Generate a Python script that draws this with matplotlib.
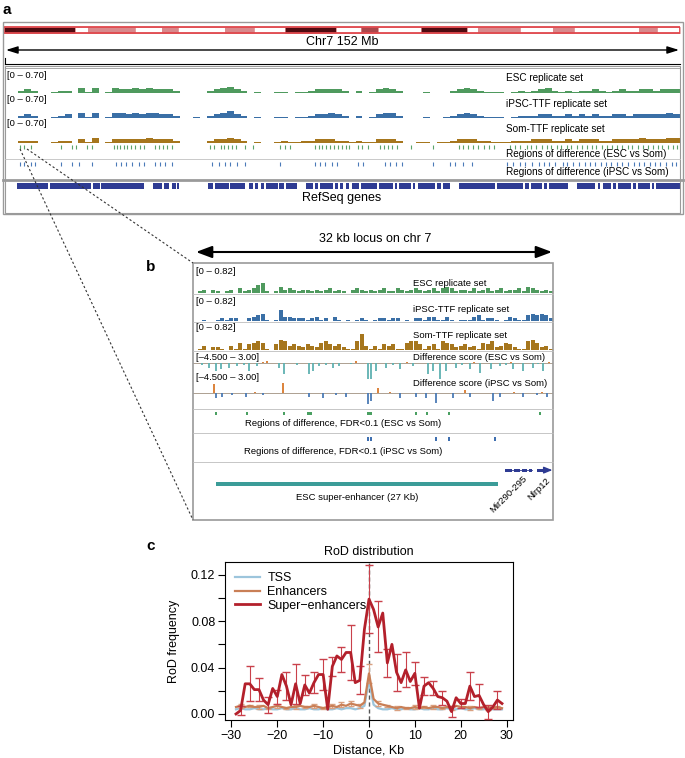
import numpy as np
import matplotlib
matplotlib.use('Agg')
import matplotlib.pyplot as plt
from matplotlib.patches import Rectangle

plt.rcParams['font.family'] = ['Liberation Sans', 'DejaVu Sans']

W, H = 685, 758

# ---------------- panel a : whole chr7 (Mb) ----------------
band_edges = [0, 16.0, 18.9, 29.5, 35.5, 39.1, 49.7, 56.2, 63.2, 74.6, 80.3,
              84.1, 93.8, 104.1, 106.6, 116.0, 123.4, 128.2, 142.8, 146.8, 152.0]
band_stain = ['dark', 'white', 'pink', 'white', 'pink', 'white', 'pink', 'white',
              'dark', 'white', 'cen', 'white', 'dark', 'white', 'pink', 'white',
              'pink', 'white', 'pink', 'white']
stain_color = {'dark': '#4e0b10', 'pink': '#d8898c', 'white': '#ffffff', 'cen': '#a9474b'}

# signal in 1.52 Mb bins (units of 0.035)
chr_esc = [0, 0, 2, 3, 2, 0, 0, 1, 2, 2, 0, 4, 1, 4, 0, 1, 4, 3, 3, 4,
           3, 4, 3, 3, 3, 2, 0, 0, 0, 0, 2, 3, 4, 5, 3, 2, 0, 1, 0, 0,
           1, 1, 0, 1, 1, 2, 3, 3, 3, 3, 2, 0, 2, 0, 1, 3, 4, 3, 2, 0,
           0, 0, 1, 0, 0, 0, 2, 3, 4, 3, 2, 1, 1, 1, 0, 1, 2, 1, 2, 3,
           4, 2, 1, 2, 1, 2, 2, 3, 2, 1, 2, 3, 2, 2, 3, 3, 2, 3, 3, 3]
chr_ipsc = [0, 0, 2, 3, 2, 0, 0, 1, 2, 3, 0, 4, 1, 4, 0, 1, 4, 4, 3, 4,
            3, 4, 4, 3, 3, 2, 0, 0, 1, 0, 2, 3, 4, 6, 3, 2, 0, 1, 0, 0,
            1, 1, 0, 1, 1, 2, 3, 3, 4, 3, 2, 0, 2, 0, 1, 3, 4, 4, 2, 0,
            0, 0, 1, 0, 0, 1, 2, 3, 4, 3, 2, 1, 1, 1, 0, 1, 2, 2, 2, 3,
            3, 2, 2, 3, 2, 3, 2, 3, 2, 2, 3, 3, 2, 3, 3, 3, 3, 3, 4, 3]
chr_som = [0, 0, 2, 2, 2, 0, 0, 1, 2, 2, 0, 3, 1, 4, 0, 1, 3, 3, 3, 3,
           3, 4, 3, 3, 3, 2, 0, 0, 0, 0, 2, 3, 3, 4, 3, 2, 0, 1, 0, 0,
           1, 2, 1, 1, 2, 2, 3, 3, 3, 2, 2, 1, 2, 1, 1, 3, 3, 3, 2, 0,
           0, 1, 1, 0, 1, 1, 2, 3, 3, 3, 2, 2, 1, 1, 1, 2, 2, 2, 3, 3,
           3, 2, 2, 3, 2, 3, 3, 3, 2, 2, 3, 3, 3, 3, 4, 3, 3, 3, 4, 4]

rod_esc_mb = [3.6, 4.5, 6.1, 12.8, 15.3, 16.2, 18.7, 19.8, 24.7, 25.4, 26.1, 27.0,
              27.7, 28.6, 29.5, 30.6, 31.5, 34.0, 34.9, 35.8, 36.7, 37.8, 46.3, 47.2,
              48.8, 49.5, 50.4, 51.3, 52.2, 54.2, 56.0, 62.1, 63.2, 64.3, 69.9, 70.8,
              71.5, 72.4, 73.3, 74.2, 75.1, 76.0, 76.9, 77.6, 79.6, 80.5, 81.9, 84.6,
              85.5, 86.4, 87.3, 88.4, 91.5, 96.5, 102.3, 103.2, 104.4, 105.5, 106.6,
              108.0, 109.1, 110.2, 113.8, 115.0, 116.1, 117.5, 118.4, 119.6, 121.0,
              122.1, 123.0, 124.4, 125.3, 126.5, 127.6, 128.8, 130.0, 131.1, 132.3,
              133.2, 134.4, 135.6, 136.7, 137.9, 139.0, 140.2, 141.1, 142.5, 143.6,
              144.8, 145.9, 147.1, 148.0, 149.2, 150.4, 151.3]
rod_ipsc_mb = [3.6, 4.5, 6.1, 7.0, 12.8, 15.3, 16.9, 19.8, 25.2, 26.3, 27.4, 28.8,
               30.4, 31.5, 34.0, 35.1, 36.2, 37.8, 46.8, 48.3, 49.7, 50.8, 52.4, 54.2,
               62.1, 70.0, 71.1, 72.2, 73.8, 74.9, 79.6, 80.7, 85.7, 86.8, 88.2, 89.5,
               96.5, 100.3, 101.4, 103.2, 105.3, 113.1, 114.5, 116.0, 117.2, 118.8,
               120.3, 121.4, 122.6, 124.0, 125.6, 126.7, 127.9, 129.3, 130.6, 131.8,
               133.0, 134.2, 135.3, 136.5, 137.9, 139.0, 140.4, 141.6, 142.7, 143.9,
               145.3, 146.4, 147.6, 148.8, 150.1, 151.2]
refseq_start = [2.9, 10.3, 19.9, 21.9, 33.6, 36.0, 37.8, 39.0, 45.9, 47.4, 50.9, 55.1,
                56.5, 57.8, 58.8, 61.9, 63.4, 67.9, 70.0, 71.0, 74.5, 75.6, 77.0, 78.2,
                80.3, 84.4, 87.9, 88.8, 92.0, 93.0, 97.3, 98.7, 102.3, 110.9, 117.2,
                118.5, 121.4, 122.6, 128.9, 133.5, 134.6, 136.9, 138.0, 141.4, 142.5,
                145.7, 146.7]
refseq_end = [10.0, 19.5, 21.5, 31.5, 35.5, 37.2, 38.6, 39.4, 47.0, 50.5, 54.2, 56.0,
              57.2, 58.4, 61.5, 63.0, 65.9, 69.5, 70.5, 73.9, 75.0, 76.3, 77.5, 79.8,
              83.9, 87.4, 88.3, 91.5, 92.5, 96.8, 98.2, 100.3, 110.5, 116.7, 118.0,
              120.9, 122.1, 126.8, 133.0, 134.1, 136.4, 137.5, 140.9, 142.0, 145.2,
              146.2, 152.0]

# ---------------- panel b : 32 kb locus (kb) ----------------
# signal in 0.4 kb bins (units of 0.045)
loc_esc = [0, 1, 2, 0, 2, 1, 0, 1, 2, 0, 3, 1, 2, 3, 5, 6, 1, 0, 1, 4,
           2, 3, 2, 1, 2, 2, 1, 2, 1, 2, 3, 1, 2, 1, 0, 2, 3, 2, 1, 2,
           1, 2, 3, 1, 1, 3, 2, 1, 2, 3, 2, 1, 2, 3, 1, 3, 4, 3, 1, 2,
           2, 1, 3, 1, 2, 3, 1, 2, 3, 1, 2, 2, 3, 1, 4, 3, 2, 1, 2, 1]
loc_ipsc = [0, 0, 1, 0, 0, 1, 2, 1, 2, 2, 0, 0, 2, 3, 4, 5, 1, 0, 1, 8,
            3, 3, 2, 2, 2, 1, 2, 3, 1, 2, 0, 3, 1, 0, 1, 0, 1, 2, 1, 0,
            1, 2, 2, 1, 2, 2, 0, 1, 0, 2, 2, 1, 3, 3, 1, 1, 3, 1, 0, 1,
            1, 1, 3, 4, 1, 2, 2, 1, 0, 1, 3, 2, 1, 1, 4, 5, 4, 5, 4, 2]
loc_som = [0, 1, 3, 0, 2, 2, 1, 0, 3, 1, 5, 1, 4, 5, 6, 5, 1, 0, 4, 7,
           6, 3, 4, 3, 2, 4, 3, 2, 5, 6, 4, 3, 4, 2, 1, 1, 6, 11, 3, 1,
           3, 1, 4, 3, 4, 1, 1, 5, 6, 6, 4, 1, 3, 4, 1, 6, 5, 4, 2, 3,
           4, 2, 3, 1, 5, 4, 6, 2, 3, 5, 4, 2, 1, 1, 6, 7, 5, 2, 3, 1]

diff_esc_kb = [0.8, 1.43, 2.02, 2.47, 3.21, 3.95, 4.5, 4.99, 5.73, 6.2,
               6.62, 7.67, 8.11, 9.2, 10.34, 10.64, 11.23, 11.8, 12.42, 13.01,
               14.0, 14.5, 15.54, 15.84, 16.29, 17.18, 17.8, 18.36, 19.0, 19.55,
               20.89, 21.33, 21.93, 22.52, 23.41, 23.9, 24.6, 25.0, 25.49, 26.53,
               27.27, 27.8, 28.3, 28.46, 29.35, 30.24, 30.7, 31.13, 31.6]
diff_esc_val = [-0.4, -1.2, -2.1, -1.6, -1.2, -0.7, -0.4, -2.1, -0.7, 0.3,
                0.5, -1.2, -3.0, -0.4, -2.9, -2.0, -0.7, -0.4, -1.2, -0.7,
                -0.3, 0.6, -4.3, -4.1, -2.0, -1.2, -0.4, -1.6, 0.3, -0.7,
                -2.9, -2.0, -4.3, -2.0, -1.2, -0.4, -1.6, 0.3, -2.5, -1.6,
                -0.7, -0.4, 0.4, -1.6, -2.0, -1.2, -0.3, -2.0, 0.3]
diff_ipsc_kb = [1.87, 2.02, 2.61, 3.5, 4.7, 5.5, 6.18, 7.96, 10.34, 11.52,
                12.72, 13.61, 15.54, 15.84, 16.43, 17.5, 18.36, 19.85, 20.74, 21.63,
                23.11, 24.16, 24.6, 26.68, 27.27, 28.5, 29.35, 30.54, 31.0, 31.43]
diff_ipsc_val = [2.7, -1.2, -0.9, -0.6, -0.9, 0.4, -0.6, 3.0, -0.9, -1.2,
                 -0.6, -0.9, -3.1, -2.2, 1.5, 0.4, -1.2, -0.9, -1.3, -2.7,
                 -1.2, 0.9, -0.9, -2.2, -0.9, 0.5, -0.9, -0.6, 0.4, -0.9]

fdr_esc_kb = [1.97, 4.74, 8.04, 10.15, 15.45, 19.72, 20.70, 22.66, 30.77]
fdr_esc_w = [0.15, 0.15, 0.15, 0.4, 0.5, 0.15, 0.15, 0.15, 0.15]
fdr_ipsc_kb = [15.45, 15.75, 21.5, 22.66, 26.76]
fdr_ipsc_w = [0.15, 0.15, 0.15, 0.15, 0.15]

mir_start = [27.7, 28.5, 29.2, 29.85]
mir_end = [28.35, 29.05, 29.7, 30.15]
nlrp_start, nlrp_end = 30.6, 31.95
se_start, se_end = 2.05, 27.1

# ---------------- panel c : RoD distribution ----------------
dist = np.arange(-29, 30)
tss = [0.004, 0.005, 0.004, 0.004, 0.005, 0.004, 0.004, 0.005, 0.004, 0.004,
       0.005, 0.004, 0.004, 0.005, 0.004, 0.004, 0.005, 0.004, 0.004, 0.005,
       0.004, 0.004, 0.005, 0.004, 0.005, 0.005, 0.004, 0.005, 0.007,
       0.029,
       0.008, 0.005, 0.004, 0.004, 0.005, 0.004, 0.004, 0.005, 0.004, 0.004,
       0.005, 0.004, 0.004, 0.005, 0.004, 0.004, 0.005, 0.004, 0.004, 0.005,
       0.004, 0.004, 0.005, 0.004, 0.004, 0.005, 0.004, 0.004, 0.004]
enh = [0.006, 0.007, 0.006, 0.007, 0.006, 0.006, 0.007, 0.005, 0.006, 0.007,
       0.006, 0.005, 0.006, 0.006, 0.007, 0.006, 0.006, 0.007, 0.006, 0.005,
       0.006, 0.007, 0.006, 0.008, 0.007, 0.009, 0.008, 0.007, 0.010,
       0.035,
       0.013, 0.009, 0.008, 0.007, 0.006, 0.005, 0.006, 0.005, 0.005, 0.006,
       0.005, 0.006, 0.005, 0.006, 0.006, 0.005, 0.006, 0.005, 0.007, 0.006,
       0.006, 0.005, 0.006, 0.005, 0.006, 0.005, 0.005, 0.006, 0.005]
sup = [0.000, 0.003, 0.026, 0.026, 0.021, 0.021, 0.012, 0.008, 0.022, 0.015,
       0.034, 0.024, 0.008, 0.026, 0.009, 0.025, 0.018, 0.027, 0.034, 0.034,
       0.004, 0.041, 0.050, 0.047, 0.053, 0.053, 0.027, 0.029, 0.073,
       0.099,
       0.090, 0.075, 0.087, 0.044, 0.060, 0.036, 0.027, 0.038, 0.028, 0.035,
       0.005, 0.024, 0.027, 0.022, 0.015, 0.014, 0.011, 0.002, 0.014, 0.009,
       0.009, 0.024, 0.015, 0.016, 0.008, 0.002, 0.006, 0.012, 0.009]
err_x = np.arange(-28, 29, 2)
enh_err = [0.002, 0.001, 0.002, 0.001, 0.002, 0.001, 0.002, 0.001, 0.002, 0.001,
           0.002, 0.002, 0.002, 0.002, 0.008, 0.002, 0.001, 0.002, 0.001, 0.002,
           0.001, 0.002, 0.001, 0.002, 0.001, 0.002, 0.001, 0.002, 0.001]
sup_err = [0.004, 0.015, 0.010, 0.007, 0.006, 0.012, 0.017, 0.009, 0.009, 0.013,
           0.008, 0.011, 0.024, 0.012, 0.029, 0.022, 0.012, 0.016, 0.015, 0.010,
           0.008, 0.006, 0.006, 0.005, 0.004, 0.012, 0.010, 0.006, 0.008]

c_esc, c_ipsc, c_som = '#4f9a5e', '#3a6fa6', '#a6761d'
c_navy = '#2e3b93'
c_grid = '#9a9a9a'

fig = plt.figure(figsize=(W / 100, H / 100), dpi=100)


def px_axes(x0, y0, x1, y1, xlim, ylim=(0, 1)):
    """ axes placed by pixel box (y measured from top) """
    ax = fig.add_axes([x0 / W, 1 - y1 / H, (x1 - x0) / W, (y1 - y0) / H])
    ax.set_xlim(*xlim)
    ax.set_ylim(*ylim)
    ax.axis('off')
    return ax


def signal(ax, vals, binw, unit, color, fill=0.9):
    vals = np.asarray(vals, dtype=float)
    centers = binw * (np.arange(len(vals)) + 0.5)
    ax.bar(centers, vals * unit, width=binw * fill, color=color, linewidth=0)


# ---- panel a ----
ax = px_axes(4, 26, 680, 34, (0, 152))
for i, st in enumerate(band_stain):
    ax.broken_barh([(band_edges[i], band_edges[i + 1] - band_edges[i])], (0.15, 0.7),
                   facecolor=stain_color[st], edgecolor='#d77a7d', linewidth=0.4)
ax.add_patch(Rectangle((0, 0.1), 152, 0.8, fill=False, edgecolor='#e0474c', lw=1.3))

for vals, col, (y0, y1) in [(chr_esc, c_esc, (69, 93)), (chr_ipsc, c_ipsc, (94, 118)),
                            (chr_som, c_som, (119, 143))]:
    ax = px_axes(4, y0, 680, y1, (0, 152), (0, 0.70))
    signal(ax, vals, 1.52, 0.035, col, fill=1.0)
    ax.axhline(0, color='#b0b0b0', lw=0.6)

ax = px_axes(4, 143, 680, 159, (0, 152))
ax.vlines(rod_esc_mb, 0.62, 0.88, color='#5aa36a', lw=0.8)
ax = px_axes(4, 159, 680, 178, (0, 152))
ax.vlines(rod_ipsc_mb, 0.63, 0.85, color='#4a7ab8', lw=0.8)

ax = px_axes(4, 181, 680, 213, (0, 152))
ax.broken_barh([(s, e - s) for s, e in zip(refseq_start, refseq_end)], (0.75, 0.19),
               facecolor=c_navy, edgecolor='none')

# ---- panel b ----
for vals, col, (y0, y1) in [(loc_esc, c_esc, (264, 293)), (loc_ipsc, c_ipsc, (295, 321)),
                            (loc_som, c_som, (323, 350))]:
    ax = px_axes(193, y0, 553, y1, (0, 32), (0, 0.82))
    signal(ax, vals, 0.4, 0.045, col)

for kb, val, neg, (y0, y1) in [(diff_esc_kb, diff_esc_val, '#5fb1b1', (352, 380)),
                               (diff_ipsc_kb, diff_ipsc_val, '#4b7bb5', (383, 409))]:
    ax = px_axes(193, y0, 553, y1, (0, 32), (-4.5, 3.0))
    ax.axhline(0, color='#a09080', lw=0.6)
    cols = ['#d9782b' if v > 0 else neg for v in val]
    ax.vlines(kb, 0, val, colors=cols, lw=1.3)

ax = px_axes(193, 409, 553, 433, (0, 32))
ax.broken_barh(list(zip(fdr_esc_kb, fdr_esc_w)), (0.74, 0.15), facecolor='#4aa062')
ax = px_axes(193, 433, 553, 462, (0, 32))
ax.broken_barh(list(zip(fdr_ipsc_kb, fdr_ipsc_w)), (0.72, 0.14), facecolor='#3f6fb0')

ax = px_axes(193, 462, 553, 520, (0, 32))
ax.plot([mir_start[0], mir_end[-1]], [0.86, 0.86], color=c_navy, lw=0.6)
ax.broken_barh([(s, e - s) for s, e in zip(mir_start, mir_end)], (0.835, 0.05),
               facecolor=c_navy)
ax.broken_barh([(nlrp_start, 0.75)], (0.835, 0.05), facecolor=c_navy)
ax.annotate('', xy=(nlrp_end, 0.86), xytext=(nlrp_start + 0.6, 0.86),
            arrowprops=dict(arrowstyle='-|>,head_length=0.5,head_width=0.2',
                            color=c_navy, lw=1, shrinkA=0, shrinkB=0))
ax.broken_barh([(se_start, se_end - se_start)], (0.585, 0.07), facecolor='#3b9c98')

# ---- panel c ----
axc = fig.add_axes([225 / W, 1 - 720 / H, (513 - 225) / W, (720 - 562) / H])
axc.axvline(0, color='#555555', lw=1, ls=(0, (3, 2)), zorder=1)
axc.plot(dist, tss, color='#9cc5dc', lw=1.6, label='TSS', zorder=3)
axc.errorbar(err_x, np.array(enh)[err_x + 29], yerr=enh_err, fmt='none',
             ecolor='#d9a080', elinewidth=0.8, capsize=2.5, zorder=3)
axc.plot(dist, enh, color='#c97f56', lw=1.6, label='Enhancers', zorder=4)
axc.errorbar(err_x, np.array(sup)[err_x + 29], yerr=sup_err, fmt='none',
             ecolor='#c9414b', elinewidth=0.8, capsize=3, zorder=5)
axc.plot(dist, sup, color='#b3202b', lw=2, label='Super\u2212enhancers', zorder=6)
axc.set_xlim(-31.4, 31.4)
axc.set_ylim(-0.0052, 0.131)
axc.set_xticks([-30, -20, -10, 0, 10, 20, 30])
axc.set_yticks(np.arange(0, 0.121, 0.02))
axc.set_yticklabels(['0.00', '', '0.04', '', '0.08', '', '0.12'])
axc.tick_params(direction='out', length=5, width=0.8, labelsize=9, pad=2)
for sp in axc.spines.values():
    sp.set_linewidth(0.8)
axc.set_title('RoD distribution', fontsize=9, pad=5)
axc.set_ylabel('RoD frequency', fontsize=9, labelpad=8)
axc.set_xlabel('Distance, Kb', fontsize=9, labelpad=2)
axc.legend(loc='upper left', frameon=False, fontsize=9, handlelength=2,
           labelspacing=0.15, borderaxespad=0.4, handletextpad=0.6)

# ---- overlay: frames, arrows, labels ----
ov = fig.add_axes([0, 0, 1, 1])
ov.set_xlim(0, W)
ov.set_ylim(H, 0)
ov.axis('off')

ov.add_patch(Rectangle((3, 22), 680, 192, fill=False, edgecolor=c_grid, lw=1))
ov.add_patch(Rectangle((5, 66), 675, 147, fill=False, edgecolor=c_grid, lw=0.8))
ov.plot([5, 680], [63.5, 63.5], color='black', lw=0.8)
ov.plot([5, 5], [58, 64], color='black', lw=0.8)
ov.plot([5, 680], [68, 68], color=c_grid, lw=0.6)
ov.plot([5, 680], [159, 159], color='#c0c0c0', lw=0.6)
ov.plot([3, 683], [180, 180], color=c_grid, lw=2)
ov.annotate('', xy=(6, 50), xytext=(679, 50),
            arrowprops=dict(arrowstyle='<|-|>,head_length=0.7,head_width=0.22',
                            color='black', lw=1, shrinkA=0, shrinkB=0, mutation_scale=10))
ov.text(342, 42, 'Chr7 152 Mb', ha='center', va='center', fontsize=9)
for y in (75, 99, 124):
    ov.text(7, y, '[0 \u2013 0.70]', ha='left', va='center', fontsize=6.8)
ov.text(506, 78, 'ESC replicate set', ha='left', va='center', fontsize=7.2)
ov.text(506, 104, 'iPSC-TTF replicate set', ha='left', va='center', fontsize=7.2)
ov.text(506, 129, 'Som-TTF replicate set', ha='left', va='center', fontsize=7.2)
ov.text(506, 154, 'Regions of difference (ESC vs Som)', ha='left', va='center', fontsize=7.2)
ov.text(506, 172, 'Regions of difference (iPSC vs Som)', ha='left', va='center', fontsize=7.2)
ov.text(342, 198, 'RefSeq genes', ha='center', va='center', fontsize=9)

ov.plot([20, 193], [149, 520], color='#333333', lw=0.8, ls=(0, (2, 2)))
ov.plot([27, 193], [149, 263], color='#333333', lw=0.8, ls=(0, (2, 2)))

ov.add_patch(Rectangle((193, 263), 360, 257, facecolor='none', edgecolor=c_grid, lw=1.2))
for y in (294, 322, 351, 409, 433, 462):
    ov.plot([193, 553], [y, y], color='#bdbdbd', lw=0.6)
ov.annotate('', xy=(196, 252), xytext=(552, 252),
            arrowprops=dict(arrowstyle='<|-|>,head_length=0.8,head_width=0.3',
                            color='black', lw=1.5, shrinkA=0, shrinkB=0, mutation_scale=12))
ov.text(375, 239, '32 kb locus on chr 7', ha='center', va='center', fontsize=9)
for y in (272, 301, 328):
    ov.text(196, y, '[0 \u2013 0.82]', ha='left', va='center', fontsize=6.8)
ov.text(413, 283, 'ESC replicate set', ha='left', va='center', fontsize=6.8)
ov.text(413, 309, 'iPSC-TTF replicate set', ha='left', va='center', fontsize=6.8)
ov.text(413, 336, 'Som-TTF replicate set', ha='left', va='center', fontsize=6.8)
ov.text(196, 357, '[\u20134.500 \u2013 3.00]', ha='left', va='center', fontsize=6.8)
ov.text(196, 378, '[\u20134.500 \u2013 3.00]', ha='left', va='center', fontsize=6.8)
ov.text(413, 357, 'Difference score (ESC vs Som)', ha='left', va='center', fontsize=6.8)
ov.text(413, 384, 'Difference score (iPSC vs Som)', ha='left', va='center', fontsize=6.8)
ov.text(343, 423, 'Regions of difference, FDR<0.1 (ESC vs Som)', ha='center', va='center', fontsize=6.8)
ov.text(343, 452, 'Regions of difference, FDR<0.1 (iPSC vs Som)', ha='center', va='center', fontsize=6.8)
ov.text(357, 497, 'ESC super-enhancer (27 Kb)', ha='center', va='center', fontsize=6.8)
ov.text(526, 477, 'Mir290-295', ha='right', va='center', rotation=45,
        rotation_mode='anchor', fontsize=6.8)
ov.text(549, 479, 'Nlrp12', ha='right', va='center', rotation=45,
        rotation_mode='anchor', fontsize=6.8)

ov.text(3, 10, 'a', ha='left', va='center', fontsize=11, fontweight='bold')
ov.text(146, 267, 'b', ha='left', va='center', fontsize=11, fontweight='bold')
ov.text(146, 546, 'c', ha='left', va='center', fontsize=11, fontweight='bold')

fig.savefig('out.png', dpi=100)
